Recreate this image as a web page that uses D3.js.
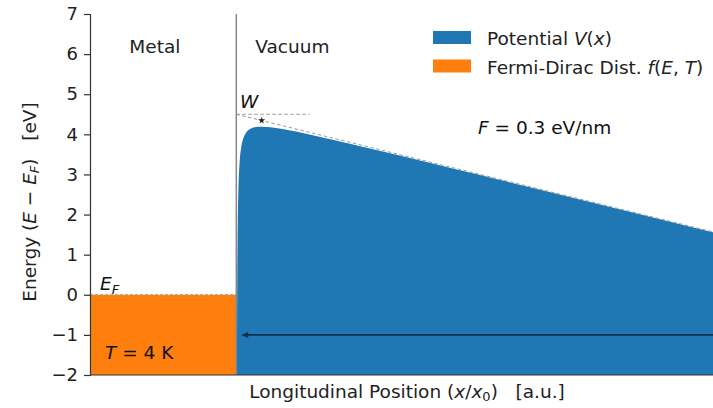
<!DOCTYPE html>
<html>
<head>
<meta charset="utf-8">
<script src="https://cdn.jsdelivr.net/npm/d3@7"></script>
<style>
  html, body { margin: 0; padding: 0; background: #fff; }
  svg { display: block; font-family: "DejaVu Sans", sans-serif; }
</style>
</head>
<body>
<svg id="chart" width="713" height="408"></svg>
<script>
// Band diagram of a metal surface under an applied field (Schottky barrier)
const workFunction = 4.5;          // W [eV]
const field = 0.3;                 // F [eV/nm]
const fermiLevel = 0;              // E_F
const metalEdge = 0;               // interface position
const xDomain = [-3, 10];
const yDomain = [-2, 7];
const yTicks = [-2, -1, 0, 1, 2, 3, 4, 5, 6, 7];

// Potential V(x) in the vacuum region
const potentialX = [0.0123, 0.015, 0.02, 0.03, 0.04, 0.05, 0.07, 0.1, 0.15, 0.2, 0.3, 0.4, 0.52, 0.7, 1.0, 1.5, 2, 3, 4, 5, 6, 7, 8, 9, 10];
const potentialV = [-2.0, -0.84, 0.49, 1.82, 2.49, 2.885, 3.336, 3.67, 3.92, 4.04, 4.143, 4.18, 4.19, 4.176, 4.12, 3.997, 3.86, 3.573, 3.28, 2.984, 2.687, 2.389, 2.09, 1.791, 1.492];

// Barrier maximum (marked on the field line)
const peakX = 0.52;
// Electron tunnelling arrow at this energy
const arrowEnergy = -1;
const arrowFromX = 10.3;
const arrowToX = 0.1;

const svg = d3.select("#chart");
const m = { left: 90, right: 724, top: 14, bottom: 375 };
const FS = 18.5;

const x = d3.scaleLinear().domain(xDomain).range([m.left, m.right]);
const y = d3.scaleLinear().domain(yDomain).range([m.bottom, m.top]);

const blue = "#1f77b4", orange = "#ff7f0e";

// clip to plot area
svg.append("defs").append("clipPath").attr("id", "plot")
  .append("rect").attr("x", m.left).attr("y", m.top)
  .attr("width", m.right - m.left).attr("height", m.bottom - m.top);

const g = svg.append("g").attr("clip-path", "url(#plot)");

// Fermi-Dirac occupied states in the metal
g.append("rect")
  .attr("x", x(xDomain[0])).attr("y", y(fermiLevel))
  .attr("width", x(metalEdge) - x(xDomain[0]))
  .attr("height", y(yDomain[0]) - y(fermiLevel))
  .attr("fill", orange);

// Potential barrier
const pts = potentialX.map((d, i) => [d, potentialV[i]]);
const area = d3.area().x(d => x(d[0])).y0(y(yDomain[0])).y1(d => y(d[1])).curve(d3.curveMonotoneX);
g.append("path").datum(pts).attr("d", area).attr("fill", blue);

// Fermi level
g.append("line")
  .attr("x1", x(xDomain[0])).attr("x2", x(metalEdge))
  .attr("y1", y(fermiLevel)).attr("y2", y(fermiLevel))
  .attr("stroke", "#999").attr("stroke-width", 1).attr("stroke-dasharray", "3,2");

// Work function level and field line
g.append("line")
  .attr("x1", x(metalEdge)).attr("x2", x(1.5))
  .attr("y1", y(workFunction)).attr("y2", y(workFunction))
  .attr("stroke", "#999").attr("stroke-width", 1).attr("stroke-dasharray", "3.5,2.5");
g.append("line")
  .attr("x1", x(metalEdge)).attr("x2", x(xDomain[1]))
  .attr("y1", y(workFunction)).attr("y2", y(workFunction - field * xDomain[1]))
  .attr("stroke", "#999").attr("stroke-width", 1).attr("stroke-dasharray", "3.5,2.5");

// barrier maximum marker
const mx = x(peakX), my = y(workFunction - field * peakX);
g.append("path")
  .attr("d", d3.symbol().type(d3.symbolStar).size(16)())
  .attr("transform", `translate(${mx},${my})`)
  .attr("fill", "#222");

// Metal / vacuum interface
svg.append("line")
  .attr("x1", x(metalEdge)).attr("x2", x(metalEdge))
  .attr("y1", m.top).attr("y2", m.bottom)
  .attr("stroke", "#888").attr("stroke-width", 1.5);

// tunnelling arrow
const ay = y(arrowEnergy);
const ax2 = x(arrowToX);
g.append("line")
  .attr("x1", x(arrowFromX)).attr("x2", ax2 + 3)
  .attr("y1", ay).attr("y2", ay)
  .attr("stroke", "#12304d").attr("stroke-width", 1.6);
g.append("path")
  .attr("d", `M${ax2},${ay} L${ax2 + 7},${ay - 3} L${ax2 + 7},${ay + 3} Z`)
  .attr("fill", "#12304d");

// axes
const yAxis = d3.axisLeft(y).tickValues(yTicks).tickSize(6).tickPadding(6)
  .tickFormat(d => d < 0 ? "\u2212" + Math.abs(d) : String(d));
const ya = svg.append("g").attr("transform", `translate(${m.left},0)`).call(yAxis);
ya.select(".domain").attr("stroke", "#333").attr("stroke-width", 1.2);
ya.selectAll(".tick line").attr("stroke", "#333").attr("stroke-width", 1.2);
ya.selectAll(".tick text").attr("font-size", 18).attr("fill", "#222")
  .attr("font-family", "DejaVu Sans");

svg.append("line")
  .attr("x1", m.left).attr("x2", m.right)
  .attr("y1", m.bottom).attr("y2", m.bottom)
  .attr("stroke", "#333").attr("stroke-width", 1.2);

// axis titles
const ylab = svg.append("text")
  .attr("transform", `translate(36,202) rotate(-90)`)
  .attr("text-anchor", "middle").attr("font-size", FS).attr("fill", "#222");
ylab.append("tspan").text("Energy (");
ylab.append("tspan").attr("font-style", "italic").text("E");
ylab.append("tspan").text(" \u2212 ");
ylab.append("tspan").attr("font-style", "italic").text("E");
ylab.append("tspan").attr("font-style", "italic").attr("font-size", 13).attr("dy", 3).text("F");
ylab.append("tspan").attr("dy", -3).text(")\u00a0\u00a0\u00a0[eV]");

const xlab = svg.append("text")
  .attr("x", (m.left + m.right) / 2).attr("y", 398)
  .attr("text-anchor", "middle").attr("font-size", FS).attr("fill", "#222");
xlab.append("tspan").text("Longitudinal Position (");
xlab.append("tspan").attr("font-style", "italic").text("x");
xlab.append("tspan").text("/");
xlab.append("tspan").attr("font-style", "italic").text("x");
xlab.append("tspan").attr("font-size", 13).attr("dy", 3).text("0");
xlab.append("tspan").attr("dy", -3).text(")\u00a0\u00a0\u00a0[a.u.]");

// region labels
svg.append("text").attr("x", x(-1.67)).attr("y", 53).attr("text-anchor", "middle")
  .attr("font-size", FS).attr("fill", "#222").text("Metal");
svg.append("text").attr("x", x(1.15)).attr("y", 53).attr("text-anchor", "middle")
  .attr("font-size", FS).attr("fill", "#222").text("Vacuum");

// annotations
svg.append("text").attr("x", 240).attr("y", 108).attr("font-size", FS)
  .attr("font-style", "italic").attr("fill", "#111").text("W");

const ef = svg.append("text").attr("x", 100).attr("y", 290).attr("font-size", FS).attr("fill", "#111");
ef.append("tspan").attr("font-style", "italic").text("E");
ef.append("tspan").attr("font-style", "italic").attr("font-size", 13).attr("dy", 4).text("F");

const tl = svg.append("text").attr("x", 105).attr("y", 359).attr("font-size", FS).attr("fill", "#111");
tl.append("tspan").attr("font-style", "italic").text("T");
tl.append("tspan").text(" = 4 K");

const fl = svg.append("text").attr("x", 478).attr("y", 134).attr("font-size", FS).attr("fill", "#111");
fl.append("tspan").attr("font-style", "italic").text("F");
fl.append("tspan").text(" = 0.3 eV/nm");

// legend
const legend = svg.append("g");
const items = [
  { color: blue, parts: [["Potential ", false], ["V", true], ["(", false], ["x", true], [")", false]] },
  { color: orange, parts: [["Fermi-Dirac Dist. ", false], ["f", true], ["(", false], ["E", true], [", ", false], ["T", true], [")", false]] }
];
items.forEach((it, i) => {
  const yy = 31 + i * 28.5;
  legend.append("rect").attr("x", 433).attr("y", yy).attr("width", 38).attr("height", 13).attr("fill", it.color);
  const t = legend.append("text").attr("x", 487).attr("y", yy + 14).attr("font-size", FS).attr("fill", "#222");
  it.parts.forEach(p => t.append("tspan").attr("font-style", p[1] ? "italic" : "normal").text(p[0]));
});
</script>
</body>
</html>
